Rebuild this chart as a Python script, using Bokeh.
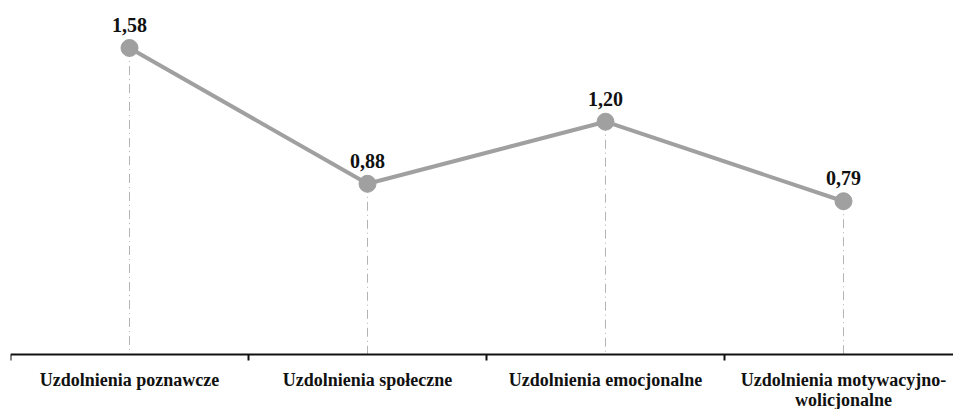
from bokeh.plotting import figure
from bokeh.models import Range1d, LinearAxis, FixedTicker, ColumnDataSource
from bokeh.core.properties import value
from bokeh.embed import file_html
from bokeh.resources import INLINE

categories = ["Uzdolnienia poznawcze", "Uzdolnienia społeczne",
              "Uzdolnienia emocjonalne", "Uzdolnienia motywacyjno-\nwolicjonalne"]
values = [1.58, 0.88, 1.20, 0.79]
value_labels = ["1,58", "0,88", "1,20", "0,79"]

xs = [i + 0.5 for i in range(len(categories))]
src = ColumnDataSource(dict(x=xs, y=values, lab=value_labels, zero=[0] * len(values)))

W, H, LEFT, AXIS_Y, BAND, UNIT = 953, 409, 10, 354, 238, 194
p = figure(width=W, height=H, output_backend="svg", toolbar_location=None,
           x_range=Range1d(0, (W - LEFT) / BAND),
           y_range=Range1d(-(H - AXIS_Y) / UNIT, AXIS_Y / UNIT),
           x_axis_location=None, y_axis_location=None,
           min_border_left=LEFT, min_border_right=0, min_border_top=0, min_border_bottom=0)
p.outline_line_color = None
p.grid.visible = False
p.background_fill_color = "white"

FONT = "Liberation Serif"
GRAY = "#a0a0a0"

p.segment(x0="x", y0="y", x1="x", y1="zero", source=src, line_color="#b4b4b4",
          line_width=1, line_dash="9 4 1 4")
p.line(x="x", y="y", source=src, line_color=GRAY, line_width=4)
p.scatter(x="x", y="y", source=src, size=17, fill_color=GRAY, line_color=GRAY)
p.text(x="x", y="y", text="lab", source=src, text_font=value(FONT), text_font_style="bold",
       text_font_size="20px", text_align="center", text_baseline="alphabetic",
       y_offset=-23, text_color="#111111")

# tick axis (band boundaries)
ax1 = LinearAxis(fixed_location=0, ticker=FixedTicker(ticks=[0, 1, 2, 3, 4]))
ax1.axis_line_width = 2
ax1.axis_line_color = "#111111"
ax1.major_tick_line_width = 2
ax1.major_tick_line_color = "#111111"
ax1.major_tick_out = 6
ax1.major_tick_in = 0
ax1.minor_tick_line_color = None
ax1.major_label_text_color = None
p.add_layout(ax1, "below")

# category label axis
ax2 = LinearAxis(fixed_location=0, ticker=FixedTicker(ticks=xs))
ax2.major_label_overrides = {x: c for x, c in zip(xs, categories)}
ax2.axis_line_color = None
ax2.major_tick_line_color = None
ax2.minor_tick_line_color = None
ax2.major_tick_out = 0
ax2.major_tick_in = 0
ax2.major_label_standoff = 15
ax2.major_label_text_font = FONT
ax2.major_label_text_font_style = "bold"
ax2.major_label_text_font_size = "18px"
ax2.major_label_text_color = "#111111"
ax2.major_label_text_line_height = 1.0
p.add_layout(ax2, "below")

open("out.html", "w").write(file_html(p, INLINE))
